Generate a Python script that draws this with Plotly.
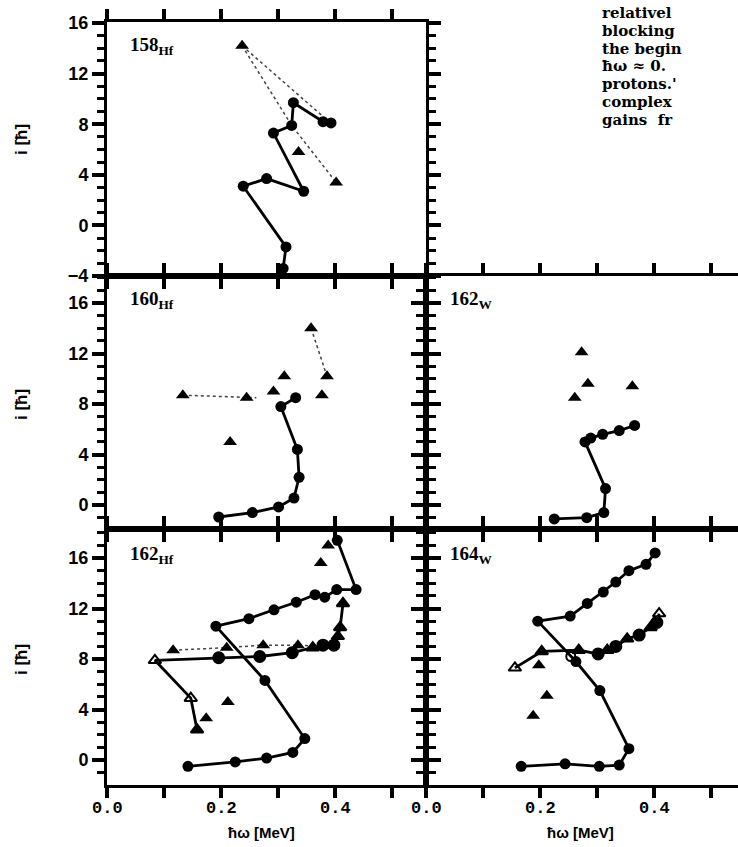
import plotly.graph_objects as go

W, H = 738, 847

# ---------------- data ----------------
# 158Hf
hf158_x = [0.309, 0.314, 0.239, 0.280, 0.345, 0.292, 0.324, 0.327, 0.379, 0.393]
hf158_y = [-3.4, -1.7, 3.1, 3.7, 2.7, 7.3, 7.9, 9.7, 8.2, 8.1]
hf158_tri_x = [0.237, 0.336, 0.402]
hf158_tri_y = [14.2, 5.8, 3.4]
hf158_dot1_x = [0.237, 0.392]
hf158_dot1_y = [14.2, 8.1]
hf158_dot2_x = [0.237, 0.324, 0.402]
hf158_dot2_y = [14.2, 7.9, 3.4]

# 160Hf
hf160_x = [0.196, 0.255, 0.301, 0.328, 0.337, 0.334, 0.305, 0.331]
hf160_y = [-0.95, -0.6, -0.15, 0.55, 2.2, 4.4, 7.8, 8.5]
hf160_tri_x = [0.133, 0.245, 0.216, 0.292, 0.311, 0.358, 0.386, 0.377]
hf160_tri_y = [8.7, 8.5, 5.0, 9.0, 10.2, 14.0, 10.2, 8.7]
hf160_dot1_x = [0.133, 0.262]
hf160_dot1_y = [8.7, 8.5]
hf160_dot2_x = [0.358, 0.386]
hf160_dot2_y = [14.0, 10.2]

# 162W
w162_x = [0.225, 0.282, 0.312, 0.315, 0.279, 0.289, 0.310, 0.339, 0.366]
w162_y = [-1.1, -1.0, -0.6, 1.3, 5.0, 5.3, 5.6, 5.9, 6.3]
w162_tri_x = [0.273, 0.284, 0.261, 0.362]
w162_tri_y = [12.1, 9.6, 8.5, 9.4]

# 162Hf
hf162a_x = [0.142, 0.225, 0.280, 0.326, 0.347, 0.277, 0.191, 0.249, 0.293, 0.332,
            0.365, 0.382, 0.403, 0.437, 0.404]
hf162a_y = [-0.5, -0.15, 0.15, 0.6, 1.7, 6.3, 10.6, 11.2, 11.9, 12.5,
            13.1, 12.9, 13.5, 13.5, 17.4]
hf162b_x = [0.158, 0.147, 0.084, 0.196, 0.268, 0.325, 0.361, 0.379, 0.398, 0.405, 0.409, 0.414]
hf162b_y = [2.4, 4.9, 7.9, 8.1, 8.2, 8.5, 8.9, 9.1, 9.1, 9.8, 10.5, 12.4]
hf162b_sym = ["triangle-up", "triangle-up-open", "triangle-up-open", "circle", "circle",
              "circle", "triangle-up", "circle", "circle", "triangle-up", "triangle-up", "triangle-up"]
hf162c_x = [0.116, 0.210, 0.274, 0.335, 0.370]
hf162c_y = [8.7, 8.9, 9.1, 9.1, 9.0]
hf162_tri_x = [0.388, 0.375, 0.174, 0.212]
hf162_tri_y = [17.0, 15.6, 3.3, 4.6]

# 164W
w164a_x = [0.167, 0.244, 0.304, 0.339, 0.356, 0.305, 0.263, 0.196, 0.253, 0.283,
           0.311, 0.333, 0.356, 0.386, 0.402]
w164a_y = [-0.5, -0.3, -0.5, -0.4, 0.9, 5.5, 7.8, 11.0, 11.4, 12.4,
           13.3, 14.1, 15.0, 15.5, 16.4]
w164b_x = [0.156, 0.203, 0.268, 0.302, 0.318, 0.333, 0.353, 0.374, 0.394, 0.405, 0.409]
w164b_y = [7.3, 8.6, 8.7, 8.4, 8.7, 9.0, 9.6, 9.9, 10.5, 10.9, 11.6]
w164b_sym = ["triangle-up-open", "triangle-up", "triangle-up", "circle", "triangle-up",
             "circle", "triangle-up", "circle", "triangle-up", "circle", "triangle-up-open"]
w164_open_x = [0.254]
w164_open_y = [8.2]
w164_tri_x = [0.198, 0.212, 0.188]
w164_tri_y = [7.5, 5.1, 3.5]

panel_labels = [("158", "Hf"), ("160", "Hf"), ("162", "W"), ("162", "Hf"), ("164", "W")]
x_ticks = [0.0, 0.1, 0.2, 0.3, 0.4, 0.5]
x_ticktext = ["0.0", "", "0.2", "", "0.4", ""]
y_ticks = [-4, 0, 4, 8, 12, 16]
x_title = "ħω [MeV]"
y_title = "i [ħ]"
side_text = ["relativel", "blocking", "the begin", "ħω ≈ 0.", "protons.'", "complex", "gains  fr"]

# ---------------- layout geometry ----------------
def fx(p):
    return p / W

def fy(p):
    return 1 - p / H

colL = [fx(107), fx(426)]
colR = [fx(426), 1.0]
rowT = [fy(276), fy(22)]
rowM = [fy(529), fy(276)]
rowB = [fy(785), fy(529)]

xr_L = [0, (426 - 107) / 570]
xr_R = [0, (738 - 426) / 570]
yr_T = [-4.0, 16.08]
yr_M = [-1.90, 18.14]
yr_B = [-1.98, 18.30]

fig = go.Figure()

CIRC = dict(symbol="circle", size=11, color="black")
TRI = dict(symbol="triangle-up", size=12, color="black")
SOLID = dict(color="black", width=2.8)
DOT = dict(color="#444", width=1.5, dash="dot")


def add(x, y, ax, mode, marker=None, line=None):
    fig.add_trace(go.Scatter(x=x, y=y, mode=mode, marker=marker, line=line,
                             xaxis="x" + ax, yaxis="y" + ax, showlegend=False,
                             hoverinfo="skip"))

# panel 1: 158Hf
add(hf158_dot1_x, hf158_dot1_y, "", "lines", line=DOT)
add(hf158_dot2_x, hf158_dot2_y, "", "lines", line=DOT)
add(hf158_x, hf158_y, "", "lines+markers", marker=CIRC, line=SOLID)
add(hf158_tri_x, hf158_tri_y, "", "markers", marker=TRI)

# panel 2: 160Hf
add(hf160_dot1_x, hf160_dot1_y, "2", "lines", line=DOT)
add(hf160_dot2_x, hf160_dot2_y, "2", "lines", line=DOT)
add(hf160_x, hf160_y, "2", "lines+markers", marker=CIRC, line=SOLID)
add(hf160_tri_x, hf160_tri_y, "2", "markers", marker=TRI)

# panel 3: 162W
add(w162_x, w162_y, "3", "lines+markers", marker=CIRC, line=SOLID)
add(w162_tri_x, w162_tri_y, "3", "markers", marker=TRI)

# panel 4: 162Hf
add(hf162c_x, hf162c_y, "4", "lines", line=DOT)
add(hf162c_x[:-1], hf162c_y[:-1], "4", "markers", marker=TRI)
add(hf162a_x, hf162a_y, "4", "lines+markers", marker=CIRC, line=SOLID)
add(hf162b_x, hf162b_y, "4", "lines+markers",
    marker=dict(symbol=hf162b_sym, size=11, color="black", line=dict(color="black", width=2)),
    line=SOLID)
add(hf162_tri_x, hf162_tri_y, "4", "markers", marker=TRI)

# panel 5: 164W
add(w164a_x, w164a_y, "5", "lines+markers", marker=CIRC, line=SOLID)
add(w164b_x, w164b_y, "5", "lines+markers",
    marker=dict(symbol=w164b_sym, size=11, color="black", line=dict(color="black", width=2)),
    line=SOLID)
add(w164_open_x, w164_open_y, "5", "markers",
    marker=dict(symbol="circle-open", size=9, color="black", line=dict(width=2)))
add(w164_tri_x, w164_tri_y, "5", "markers", marker=TRI)

YFONT = dict(family="Liberation Sans", size=18, color="black", weight="bold")


def xax(domain, rng, anchor):
    return dict(domain=domain, range=rng, anchor=anchor, tickmode="array",
                tickvals=x_ticks, showticklabels=False, ticks="outside",
                ticklen=10, tickwidth=3.5, tickcolor="#000000",
                showline=True, linewidth=3, linecolor="#000000", mirror="allticks",
                showgrid=False, zeroline=False, layer="above traces")


def yax(domain, rng, anchor, labels):
    return dict(domain=domain, range=rng, anchor=anchor, tickmode="array",
                tickvals=y_ticks, showticklabels=labels, ticks="outside",
                ticklen=12, tickwidth=3.5, tickcolor="#000000",
                showline=True, linewidth=3, linecolor="#000000", mirror="allticks",
                showgrid=False, zeroline=False, tickfont=YFONT,
                minor=dict(tickmode="linear", tick0=0, dtick=1, ticks="outside",
                           ticklen=7, tickwidth=3, tickcolor="#000000"),
                layer="above traces")


fig.update_layout(
    width=W, height=H, margin=dict(l=0, r=0, t=0, b=0, autoexpand=False),
    paper_bgcolor="white", plot_bgcolor="rgba(0,0,0,0)", template="none",
    xaxis=xax(colL, xr_L, "y"), yaxis=yax(rowT, yr_T, "x", True),
    xaxis2=xax(colL, xr_L, "y2"), yaxis2=yax(rowM, yr_M, "x2", True),
    xaxis3=xax(colR, xr_R, "y3"), yaxis3=yax(rowM, yr_M, "x3", False),
    xaxis4=xax(colL, xr_L, "y4"), yaxis4=yax(rowB, yr_B, "x4", True),
    xaxis5=xax(colR, xr_R, "y5"), yaxis5=yax(rowB, yr_B, "x5", False),
)

ann = []
label_pos = [(128, 46), (128, 300), (448, 300), (128, 555), (448, 555)]
for (num, el), (px, py) in zip(panel_labels, label_pos):
    ann.append(dict(x=fx(px), y=fy(py), xref="paper", yref="paper", xanchor="left",
                    yanchor="middle", showarrow=False,
                    text=f"{num}<sub>{el}</sub>",
                    font=dict(family="Liberation Serif", size=19, color="black", weight="bold")))

# x tick labels (bottom row)
for xa in ("x4", "x5"):
    for v, t in zip(x_ticks, x_ticktext):
        if t:
            ann.append(dict(x=v, y=fy(808), xref=xa, yref="paper", xanchor="center",
                            yanchor="middle", showarrow=False, text=t,
                            font=dict(family="Liberation Mono", size=17, color="black",
                                      weight="bold")))

for py in (140, 405, 660):
    ann.append(dict(x=fx(21), y=fy(py), xref="paper", yref="paper", showarrow=False,
                    xanchor="center", yanchor="middle",
                    text=y_title, textangle=-90,
                    font=dict(family="Liberation Sans", size=17, color="black", weight="bold")))

for px in (261, 580):
    ann.append(dict(x=fx(px), y=fy(832), xref="paper", yref="paper", showarrow=False,
                    xanchor="center", yanchor="middle",
                    text=x_title,
                    font=dict(family="Liberation Sans", size=15, color="black", weight="bold")))

for i, line in enumerate(side_text):
    ann.append(dict(x=fx(600), y=fy(13 + 17.8 * i), xref="paper", yref="paper",
                    xanchor="left", yanchor="middle", showarrow=False, text=line,
                    font=dict(family="DejaVu Serif", size=15, color="black", weight="bold")))

fig.update_layout(annotations=ann)
fig.write_html("out.html")
